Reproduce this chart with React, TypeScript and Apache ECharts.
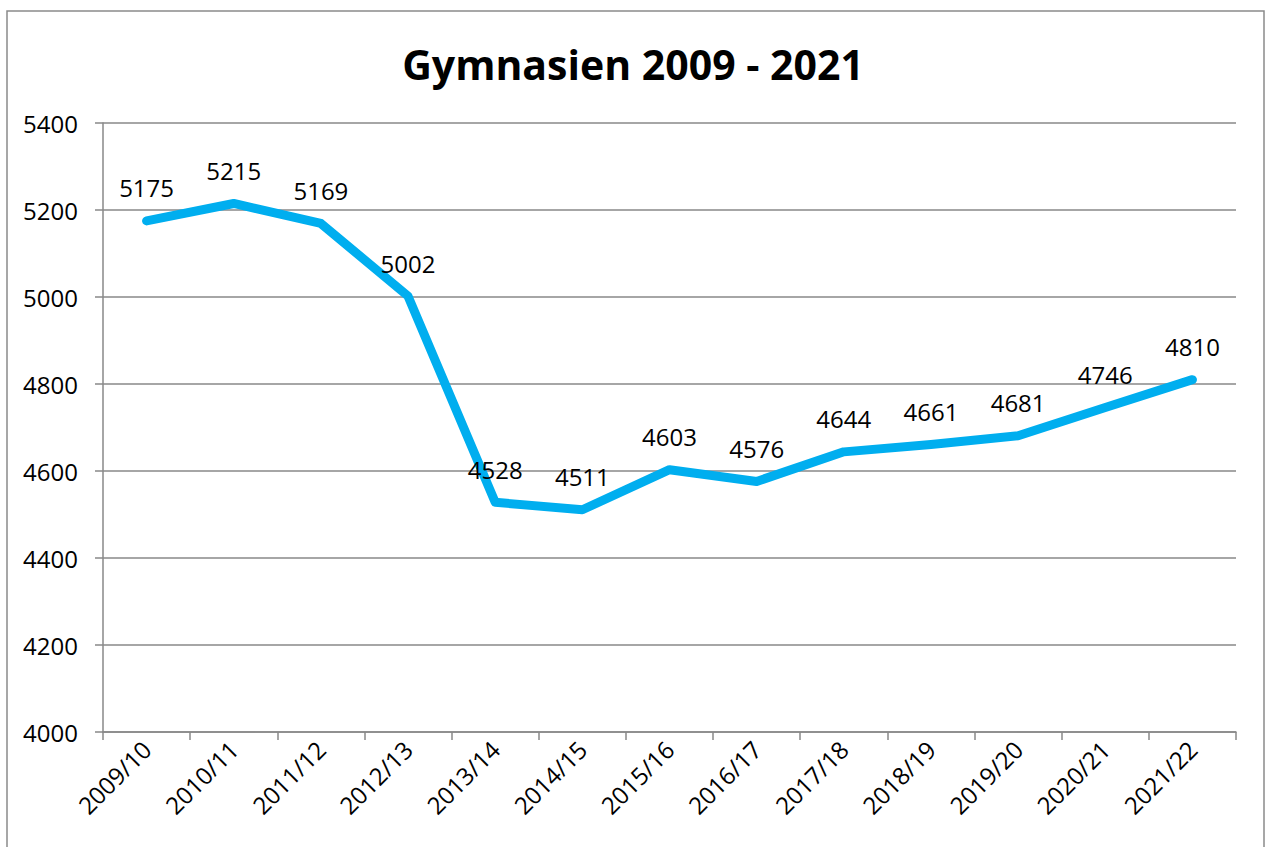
import React, { useEffect, useRef } from "react";
import * as echarts from "echarts";

const categories = ["2009/10", "2010/11", "2011/12", "2012/13", "2013/14", "2014/15", "2015/16", "2016/17", "2017/18", "2018/19", "2019/20", "2020/21", "2021/22"];
const values = [5175, 5215, 5169, 5002, 4528, 4511, 4603, 4576, 4644, 4661, 4681, 4746, 4810];
const titleText = "Gymnasien 2009 - 2021";
const yMin = 4000;
const yMax = 5400;
const yInterval = 200;

const FONT = "'Open Sans', 'Liberation Sans', sans-serif";

export default function App() {
  const ref = useRef<HTMLDivElement>(null);
  useEffect(() => {
    const chart = echarts.init(ref.current!, null, { renderer: "svg" });
    chart.setOption({
      animation: false,
      backgroundColor: "#ffffff",
      textStyle: { fontFamily: FONT },
      title: {
        text: titleText,
        left: "center",
        top: 38,
        textStyle: { fontFamily: FONT, fontWeight: "bold", fontSize: 41, color: "#000" },
      },
      graphic: [
        {
          type: "rect",
          shape: { x: 7, y: 11, width: 1257, height: 860 },
          style: { fill: "none", stroke: "#8a8a8a", lineWidth: 1.5 },
          silent: true,
        },
      ],
      grid: { left: 103, right: 30, top: 123, bottom: 115, containLabel: false },
      xAxis: {
        type: "category",
        data: categories,
        boundaryGap: true,
        axisLine: { lineStyle: { color: "#888", width: 1.5 } },
        axisTick: { show: true, length: 8, alignWithLabel: false, lineStyle: { color: "#888", width: 1.5 } },
        axisLabel: { rotate: 45, fontSize: 24, color: "#000", fontFamily: FONT, margin: 13, interval: 0 },
      },
      yAxis: {
        type: "value",
        min: yMin,
        max: yMax,
        interval: yInterval,
        axisLine: { show: true, lineStyle: { color: "#888", width: 1.5 } },
        axisTick: { show: true, length: 8, lineStyle: { color: "#888", width: 1.5 } },
        axisLabel: { fontSize: 24, color: "#000", fontFamily: FONT, margin: 25, formatter: (v: number) => String(v) },
        splitLine: { lineStyle: { color: "#888", width: 1.5 } },
      },
      series: [
        {
          type: "line",
          data: values,
          symbol: "circle",
          symbolSize: 2,
          showSymbol: true,
          lineStyle: { color: "#00AEEF", width: 9, cap: "round", join: "round" },
          itemStyle: { color: "rgba(0,174,239,0)", borderWidth: 0 },
          label: { show: true, position: "top", distance: 20, fontSize: 24, color: "#000", opacity: 1, fontFamily: FONT, formatter: (p: any) => String(p.value) },
        },
      ],
    });
    return () => chart.dispose();
  }, []);
  return <div ref={ref} style={{ position: "absolute", left: 0, top: 0, width: 1266, height: 847 }} />;
}
